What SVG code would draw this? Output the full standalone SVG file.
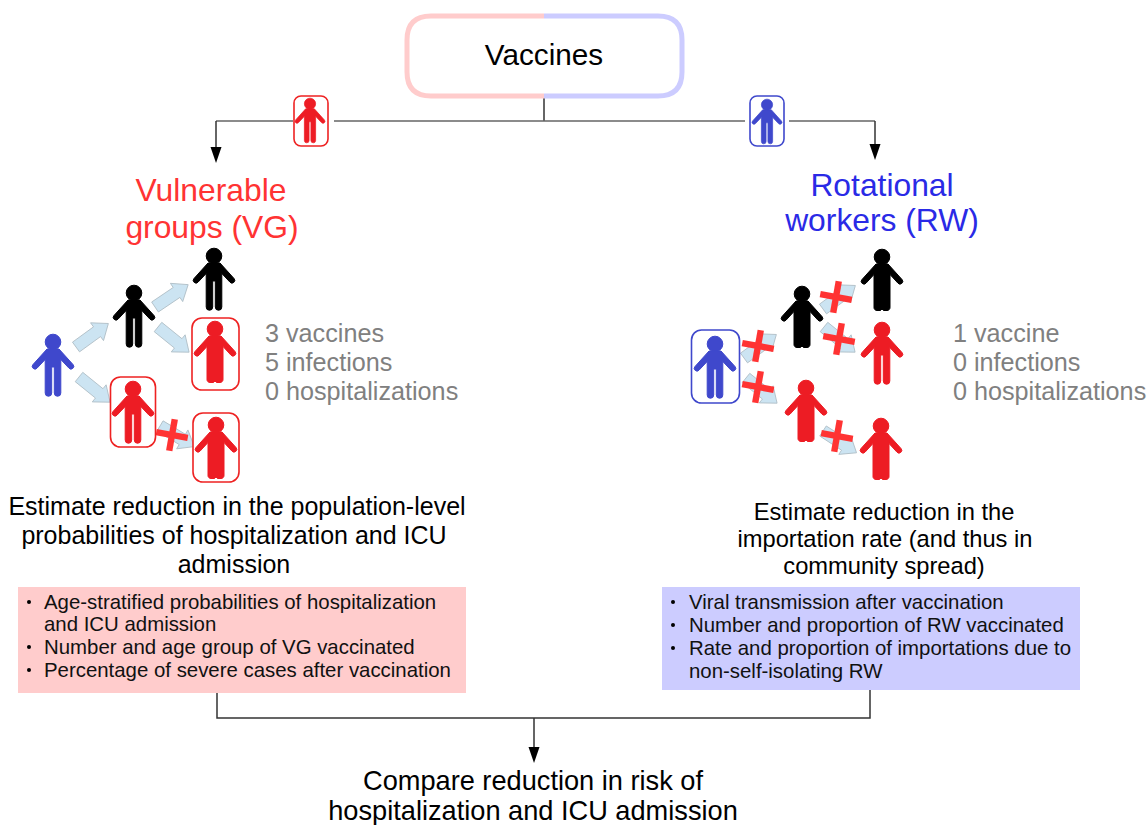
<svg xmlns="http://www.w3.org/2000/svg" xmlns:xlink="http://www.w3.org/1999/xlink" width="1148" height="825" viewBox="0 0 1148 825">
<style>
text{font-family:"Liberation Sans",Arial,sans-serif;fill:#000}
.m{text-anchor:middle}
.h{font-size:31.8px}
.g{font-size:25.2px;fill:#808080}
.t{font-size:25px}
.u{font-size:23.7px}
.b{font-size:20.4px;fill:#111}
.c{font-size:27.2px}
.ln{fill:none;stroke:#333;stroke-width:1.5}
.lg{fill:none;stroke:#666;stroke-width:1.6}
.rb{fill:#fff;stroke:#ee2222;stroke-width:1.6}
.bb{fill:#fff;stroke:#3f48cc;stroke-width:1.6}
.ar{fill:#cce4f2;stroke:#aebcc4;stroke-width:.8}
.x{fill:#ff3333}
.red{fill:#ed1c24;stroke:#ed1c24;stroke-width:1}
.blue{fill:#3f48cc;stroke:#3f48cc;stroke-width:1}
.blk{fill:#000;stroke:#000;stroke-width:1}
</style>
<defs>
<g id="p">
<circle cx="0" cy="8" r="7.800"/>
<path d="M-6 15H6L20 30.500a2.700 2.700 0 0 1-4 3.700L7.800 25.500V59a3 3 0 0 1-6.500 0V33H-1.300V59a3 3 0 0 1-6.500 0V25.500L-16 34.200a2.700 2.700 0 0 1-4-3.700Z"/>
</g>
<g id="s">
<circle cx="0" cy="8" r="7.800"/>
<path d="M-6 15H6L20 30.500a2.700 2.700 0 0 1-4 3.700L8 25.500V58a3 3 0 0 1-3 3.500H1.500L0 60L-1.500 61.500H-5a3 3 0 0 1-3-3.500V25.500L-16 34.200a2.700 2.700 0 0 1-4-3.700Z"/>
</g>
<path id="a" class="ar" d="M0 -6H26V-11L40 0L26 11V6H0Z"/>
<g id="x"><rect class="x" x="-16" y="-3.200" width="32" height="6.400" transform="rotate(10)"/><rect class="x" x="-3.200" y="-16" width="6.400" height="32" transform="rotate(10)"/></g>
</defs>
<g id="connectors">
<path class="ln" d="M544 98V121"/>
<path class="lg" d="M216 121H293M334 121H745M789 121H875"/>
<path class="ln" d="M216 121V150"/>
<path class="ln" d="M875 121V147"/>
<path d="M210.500 147H221.500L216 163Z"/>
<path d="M869.500 144H880.500L875 160Z"/>
<path class="ln" d="M217 693V718H870V690M534 718V750"/>
<path d="M528.500 747H539.500L534 763Z"/>
<g>
<use xlink:href="#a" href="#a" transform="translate(76 347) rotate(-36)"/>
<use xlink:href="#a" href="#a" transform="translate(79 377) rotate(39)"/>
<use xlink:href="#a" href="#a" transform="translate(155 307) rotate(-34)"/>
<use xlink:href="#a" href="#a" transform="translate(158 327) rotate(39)"/>
<use xlink:href="#a" href="#a" transform="translate(160 426) rotate(31)"/>
<use xlink:href="#x" href="#x" transform="translate(172 435)"/>
<use xlink:href="#a" href="#a" transform="translate(744 358) rotate(-36)"/>
<use xlink:href="#x" href="#x" transform="translate(758 346)"/>
<use xlink:href="#a" href="#a" transform="translate(746 378) rotate(39)"/>
<use xlink:href="#x" href="#x" transform="translate(758 387)"/>
<use xlink:href="#a" href="#a" transform="translate(823 309) rotate(-36)"/>
<use xlink:href="#x" href="#x" transform="translate(836 297)"/>
<use xlink:href="#a" href="#a" transform="translate(824 327) rotate(39)"/>
<use xlink:href="#x" href="#x" transform="translate(839 339)"/>
<use xlink:href="#a" href="#a" transform="translate(823 431) rotate(33)"/>
<use xlink:href="#x" href="#x" transform="translate(837 436)"/>
</g>
</g>
<g id="vaccines">
<path d="M544 16H431Q407 16 407 40V72Q407 96 431 96H544" fill="#fff" stroke="#ffcccc" stroke-width="5"/>
<path d="M544 16H658Q682 16 682 40V72Q682 96 658 96H544" fill="#fff" stroke="#ccccff" stroke-width="5"/>
<text class="m" x="544" y="65" font-size="29.700">Vaccines</text>
</g>
<g id="icon-vg">
<rect class="rb" x="294" y="96" width="34" height="50" rx="7"/>
<use xlink:href="#p" href="#p" class="red" transform="translate(310 98) scale(.72)"/>
</g>
<g id="icon-rw">
<rect class="bb" x="750" y="96" width="34" height="50" rx="7"/>
<use xlink:href="#p" href="#p" class="blue" transform="translate(767 99) scale(.72)"/>
</g>
<g id="vg-title"><text class="m h" style="fill:#ff3333" x="211" y="201">Vulnerable</text><text class="m h" style="fill:#ff3333" x="212" y="238">groups (VG)</text></g>
<g id="rw-title"><text class="m h" style="fill:#2a2ae6" x="882" y="196">Rotational</text><text class="m h" style="fill:#2a2ae6" x="882" y="231">workers (RW)</text></g>
<g id="vg-tree">
<use xlink:href="#p" href="#p" class="blue" transform="translate(53 334)"/>
<use xlink:href="#p" href="#p" class="blk" transform="translate(134 285)"/>
<use xlink:href="#p" href="#p" class="blk" transform="translate(214 248)"/>
<rect class="rb" x="192" y="318" width="47" height="72" rx="10"/>
<use xlink:href="#s" href="#s" class="red" transform="translate(215 321)"/>
<rect class="rb" x="110.500" y="377" width="45" height="70" rx="10"/>
<use xlink:href="#p" href="#p" class="red" transform="translate(133 381)"/>
<rect class="rb" x="193" y="413" width="46" height="69" rx="10"/>
<use xlink:href="#s" href="#s" class="red" transform="translate(216 417)"/>
</g>
<g id="rw-tree">
<rect class="bb" x="691.500" y="330" width="48" height="73" rx="10"/>
<use xlink:href="#p" href="#p" class="blue" transform="translate(715 336)"/>
<use xlink:href="#s" href="#s" class="blk" transform="translate(802 286)"/>
<use xlink:href="#s" href="#s" class="blk" transform="translate(882 249)"/>
<use xlink:href="#p" href="#p" class="red" transform="translate(882 322)"/>
<use xlink:href="#s" href="#s" class="red" transform="translate(806 380)"/>
<use xlink:href="#s" href="#s" class="red" transform="translate(881 418)"/>
</g>
<g id="vg-counts"><text class="g" x="265" y="342">3 vaccines</text><text class="g" x="265" y="371">5 infections</text><text class="g" x="265" y="400">0 hospitalizations</text></g>
<g id="rw-counts"><text class="g" x="953" y="342">1 vaccine</text><text class="g" x="953" y="371">0 infections</text><text class="g" x="953" y="400">0 hospitalizations</text></g>
<g id="vg-goal"><text class="m t" x="237" y="515">Estimate reduction in the population-level</text><text class="m t" x="234" y="544">probabilities of hospitalization and ICU</text><text class="m t" x="234" y="573">admission</text></g>
<g id="rw-goal"><text class="m u" x="884" y="520">Estimate reduction in the</text><text class="m u" x="885" y="547">importation rate (and thus in</text><text class="m u" x="884" y="574">community spread)</text></g>
<g id="vg-inputs">
<rect x="18" y="587" width="448" height="106" fill="#ffcccc"/>
<circle cx="29" cy="602" r="2"/><circle cx="29" cy="647" r="2"/><circle cx="29" cy="670" r="2"/>
<text class="b" x="44" y="609">Age-stratified probabilities of hospitalization</text>
<text class="b" x="44" y="631">and ICU admission</text>
<text class="b" x="44" y="654">Number and age group of VG vaccinated</text>
<text class="b" x="44" y="677">Percentage of severe cases after vaccination</text>
</g>
<g id="rw-inputs">
<rect x="662" y="587" width="418" height="103" fill="#ccccff"/>
<circle cx="673" cy="602" r="2"/><circle cx="673" cy="625" r="2"/><circle cx="673" cy="648" r="2"/>
<text class="b" x="689" y="609">Viral transmission after vaccination</text>
<text class="b" x="689" y="632">Number and proportion of RW vaccinated</text>
<text class="b" x="689" y="655">Rate and proportion of importations due to</text>
<text class="b" x="689" y="678">non-self-isolating RW</text>
</g>
<g id="compare"><text class="m c" x="533" y="790">Compare reduction in risk of</text><text class="m c" x="533" y="820">hospitalization and ICU admission</text></g>
</svg>
